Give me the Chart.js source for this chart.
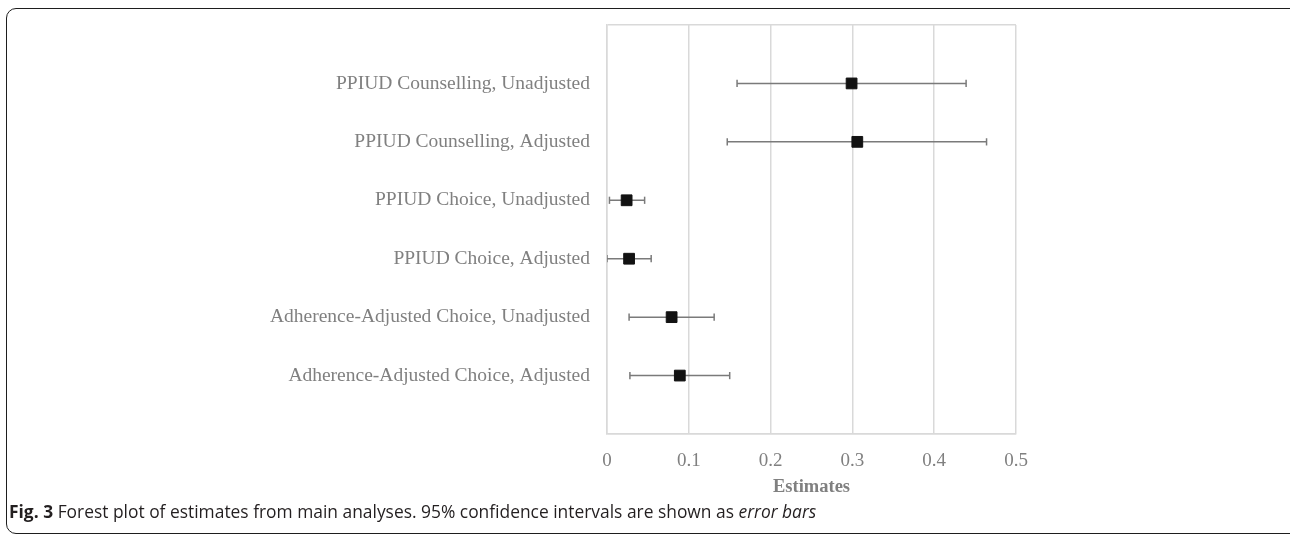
<!DOCTYPE html>
<html lang="en">
<head>
    <meta charset="UTF-8">
    <title>Forest plot of estimates</title>
    <script src="https://cdn.jsdelivr.net/npm/chart.js"></script>
    <style>
        body {
            margin: 0;
            background: #ffffff;
            overflow: hidden;
        }
        #wrap {
            position: relative;
            width: 1290px;
            height: 536px;
            overflow: hidden;
        }
        #chartBox {
            position: absolute;
            left: 0;
            top: 0;
            width: 1290px;
            height: 536px;
        }
        #frame {
            position: absolute;
            left: 6px;
            top: 8px;
            width: 1292px;
            height: 524px;
            border: 1.8px solid #1e1e1e;
            border-radius: 10px;
            pointer-events: none;
        }
        #caption {
            position: absolute;
            left: 9px;
            top: 499px;
            font-family: "Open Sans", sans-serif;
            font-size: 17.4px;
            color: #231f20;
            white-space: nowrap;
        }
        #caption b {
            font-weight: 700;
        }
    </style>
</head>
<body>

<div id="wrap">
    <div id="chartBox"><canvas id="forestChart"></canvas></div>
    <div id="frame"></div>
    <div id="caption"><b>Fig. 3</b> Forest plot of estimates from main analyses. 95% confidence intervals are shown as <i>error bars</i></div>
</div>

<script>
    // data (top row first)
    const categories = [
        'PPIUD Counselling, Unadjusted',
        'PPIUD Counselling, Adjusted',
        'PPIUD Choice, Unadjusted',
        'PPIUD Choice, Adjusted',
        'Adherence-Adjusted Choice, Unadjusted',
        'Adherence-Adjusted Choice, Adjusted'
    ];
    const estimates = [0.299, 0.306, 0.024, 0.027, 0.079, 0.089];
    const lowerCI = [0.159, 0.147, 0.003, 0.000, 0.027, 0.028];
    const upperCI = [0.439, 0.464, 0.046, 0.054, 0.131, 0.150];
    const xTicks = [0, 0.1, 0.2, 0.3, 0.4, 0.5];

    const gridColor = '#d9d9d9';
    const labelColor = '#808080';
    const serif = '"Liberation Serif", "Times New Roman", serif';

    // row position on the y axis: first category at 6, last at 1
    const rowY = i => categories.length - i;

    const datasets = [];

    // squares for the estimates
    datasets.push({
        type: 'scatter',
        data: estimates.map((v, i) => ({ x: v, y: rowY(i) })),
        pointStyle: 'rect',
        pointRadius: 7.6,
        pointBackgroundColor: '#121212',
        pointBorderColor: '#121212',
        pointBorderWidth: 1,
        order: 0
    });

    // error bars: one short line per row with vertical caps at both ends
    categories.forEach((c, i) => {
        datasets.push({
            type: 'line',
            data: [
                { x: lowerCI[i], y: rowY(i) },
                { x: upperCI[i], y: rowY(i) }
            ],
            borderColor: '#7a7a7a',
            borderWidth: 1.5,
            pointStyle: 'line',
            pointRotation: 90,
            pointRadius: 3.6,
            pointBorderWidth: 1.5,
            pointBorderColor: '#7a7a7a',
            fill: false,
            order: 1
        });
    });

    const ctx = document.getElementById('forestChart').getContext('2d');
    const forestChart = new Chart(ctx, {
        type: 'scatter',
        data: { datasets: datasets },
        options: {
            responsive: true,
            maintainAspectRatio: false,
            animation: false,
            layout: {
                padding: { left: 0, right: 274, top: 25, bottom: 32 }
            },
            plugins: {
                legend: { display: false },
                tooltip: { enabled: false }
            },
            scales: {
                x: {
                    type: 'linear',
                    min: 0,
                    max: 0.5,
                    afterBuildTicks: scale => {
                        scale.ticks = xTicks.map(v => ({ value: v }));
                    },
                    afterFit: scale => { scale.height = 70; },
                    grid: {
                        color: gridColor,
                        lineWidth: 1.5,
                        drawTicks: false
                    },
                    border: { display: true, color: gridColor, width: 1.5 },
                    ticks: {
                        padding: 16,
                        color: labelColor,
                        font: { family: serif, size: 19 },
                        callback: v => String(Math.round(v * 10) / 10)
                    },
                    title: {
                        display: true,
                        text: 'Estimates',
                        color: labelColor,
                        font: { family: serif, size: 18.5, weight: 'bold' },
                        padding: { top: 0, bottom: 6 }
                    }
                },
                y: {
                    type: 'linear',
                    min: 0,
                    max: 7,
                    afterBuildTicks: scale => {
                        const t = [];
                        for (let v = 0; v <= 7; v++) t.push({ value: v });
                        scale.ticks = t;
                    },
                    afterFit: scale => {
                        scale.width = 607;
                        scale.paddingTop = 0;
                        scale.paddingBottom = 0;
                    },
                    grid: {
                        drawTicks: false,
                        lineWidth: 1.5,
                        color: c => (c.tick && (c.tick.value === 0 || c.tick.value === 7)) ? gridColor : 'rgba(0,0,0,0)'
                    },
                    border: { display: true, color: gridColor, width: 1.5 },
                    ticks: {
                        padding: 17,
                        color: labelColor,
                        font: { family: serif, size: 19.5 },
                        callback: v => (v >= 1 && v <= 6) ? categories[categories.length - v] : ''
                    }
                }
            }
        }
    });
</script>

</body>
</html>
